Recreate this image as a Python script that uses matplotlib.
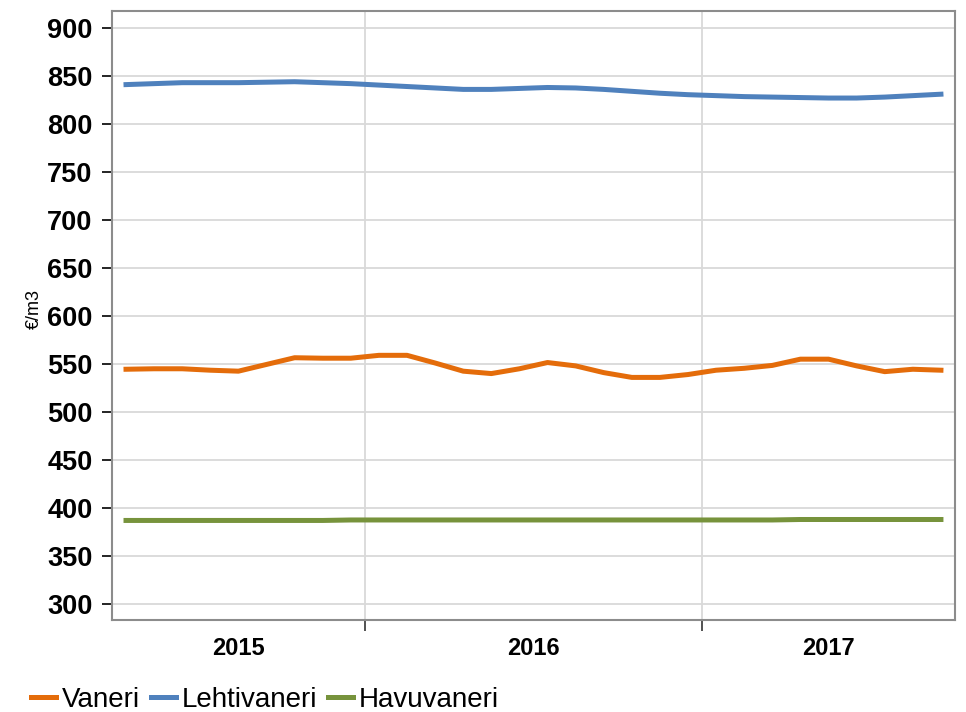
import numpy as np
import matplotlib
matplotlib.use('Agg')
import matplotlib.pyplot as plt

plt.rcParams['font.family'] = ['Liberation Sans', 'DejaVu Sans']

# kuukausittaiset hinnat 4/2015 - 9/2017, €/m3
kuukaudet = np.arange(30)
vaneri = [544.5, 545, 545, 543.5, 542.5, 549.5, 556.5, 556, 556, 559,
          559, 551, 542.5, 540, 545, 551.5, 548, 541, 536, 536,
          539, 543.5, 545.5, 548.5, 555, 555, 548, 542, 544.5, 543.5]
lehtivaneri = [841, 842, 843, 843, 843, 843.5, 844, 843, 842, 840.5,
               839, 837.5, 836, 836, 837, 838, 837.5, 836, 834, 832,
               830.5, 829.5, 828.5, 828, 827.5, 827, 827, 828, 829.5, 831]
havuvaneri = [387, 387, 387, 387, 387, 387, 387, 387, 387.5, 387.5,
              387.5, 387.5, 387.5, 387.5, 387.5, 387.5, 387.5, 387.5, 387.5, 387.5,
              387.5, 387.5, 387.5, 387.5, 388, 388, 388, 388, 388, 388]
vuodet = ['2015', '2016', '2017']
vuosien_rajat = [8.5, 20.5]
vuosien_keskikohdat = [4, 14.5, 25]

fig = plt.figure(figsize=(9.66, 7.12), dpi=100)
ax = fig.add_axes([0.1159, 0.1292, 0.8727, 0.8554])

ax.plot(kuukaudet, vaneri, color='#E46C0A', lw=3.6, label='Vaneri', zorder=3)
ax.plot(kuukaudet, lehtivaneri, color='#4F81BD', lw=3.6, label='Lehtivaneri', zorder=3)
ax.plot(kuukaudet, havuvaneri, color='#77933C', lw=3.6, label='Havuvaneri', zorder=3)

ax.set_xlim(-0.5, 29.5)
ax.set_ylim(283.3, 917.7)
ax.set_yticks(np.arange(300, 901, 50))
ax.tick_params(axis='y', direction='out', length=7, width=1.2, color='black',
               labelsize=19.5, pad=7)
for t in ax.get_yticklabels():
    t.set_fontweight('bold')

ax.set_xticks(vuosien_rajat)
ax.set_xticklabels([])
ax.set_xticks(vuosien_keskikohdat, minor=True)
ax.set_xticklabels(vuodet, minor=True, fontsize=17, fontweight='bold')
ax.tick_params(axis='x', which='major', direction='out', length=8, width=1.2, color='#333333')
ax.tick_params(axis='x', which='minor', length=0, pad=12)

ax.grid(True, which='major', color='#d9d9d9', lw=1.3)
ax.set_axisbelow(True)
for s in ax.spines.values():
    s.set_color('#8c8c8c')
    s.set_linewidth(1.5)

ax.set_ylabel('€/m3', fontsize=13, labelpad=4)
ax.yaxis.set_label_coords(-0.082, 0.51)

fig.legend(loc='center left', bbox_to_anchor=(31 / 966, 12 / 712), ncol=3,
           frameon=False, fontsize=20, borderpad=0, borderaxespad=0,
           handlelength=0.9, handletextpad=0.2, columnspacing=0.4)

fig.savefig('out.png', dpi=100)
